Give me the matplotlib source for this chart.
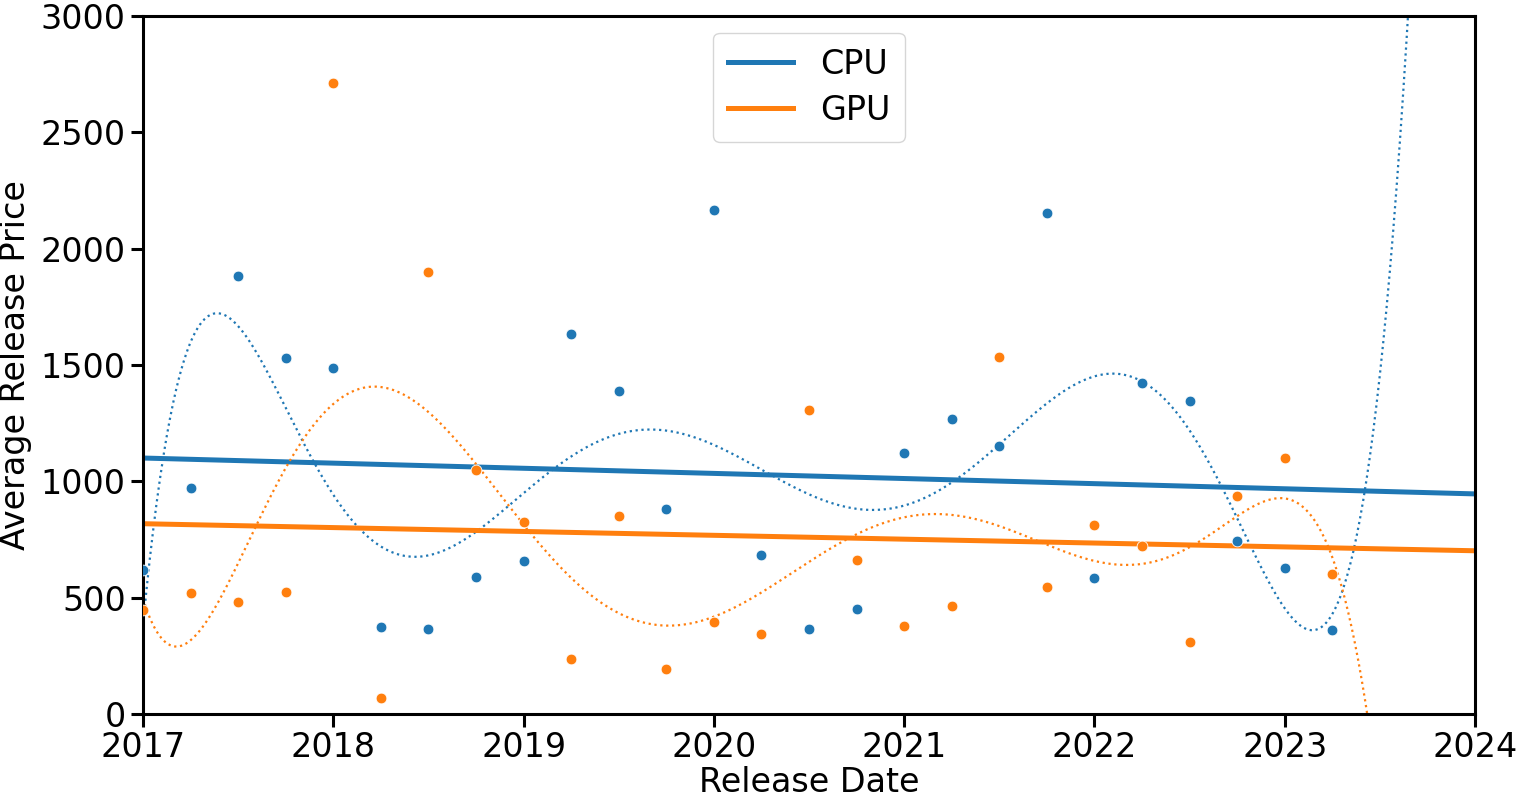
import numpy as np
import matplotlib.pyplot as plt

# quarterly release dates (decimal years)
dates = [2017.0, 2017.25, 2017.5, 2017.75, 2018.0, 2018.25, 2018.5, 2018.75,
         2019.0, 2019.25, 2019.5, 2019.75, 2020.0, 2020.25, 2020.5, 2020.75,
         2021.0, 2021.25, 2021.5, 2021.75, 2022.0, 2022.25, 2022.5, 2022.75,
         2023.0, 2023.25]

cpu_price = [619, 971, 1882, 1530, 1487, 374, 365, 589,
             657, 1633, 1388, 881, 2166, 683, 365, 451,
             1122, 1268, 1152, 2153, 584, 1422, 1345, 743,
             627, 361]

gpu_price = [447, 520, 481, 524, 2712, 69, 1899, 1049,
             825, 236, 851, 193, 395, 344, 1306, 662,
             378, 464, 1534, 546, 812, 722, 309, 937,
             1100, 602]

xticks = [2017, 2018, 2019, 2020, 2021, 2022, 2023, 2024]
yticks = [0, 500, 1000, 1500, 2000, 2500, 3000]

FS = 24
plt.rcParams['font.family'] = ['DejaVu Sans']

fig = plt.figure(figsize=(15.17, 8.02), dpi=100)
ax = fig.add_axes([0.0943, 0.1097, 0.8780, 0.8703])

x = np.array(dates)
xs = np.linspace(2017, 2024, 800)
for vals, color, name in [(cpu_price, '#1f77b4', 'CPU'), (gpu_price, '#ff7f0e', 'GPU')]:
    y = np.array(vals, dtype=float)
    ax.scatter(x, y, s=60, color=color, edgecolor='white', linewidth=0.6, zorder=3)
    lin = np.polyfit(x - 2020, y, 1)
    ax.plot(xs, np.polyval(lin, xs - 2020), color=color, lw=3.6, label=name, zorder=2)
    poly = np.polyfit(x - 2020, y, 7)
    ax.plot(xs, np.polyval(poly, xs - 2020), color=color, lw=1.6, ls=':', zorder=2)

ax.set_xlim(2017, 2024)
ax.set_ylim(0, 3000)
ax.set_xticks(xticks)
ax.set_xticklabels([str(t) for t in xticks])
ax.set_yticks(yticks)
ax.tick_params(labelsize=FS, length=9, width=2.2)
for sp in ax.spines.values():
    sp.set_linewidth(2.2)
ax.set_xlabel('Release Date', fontsize=FS, labelpad=1)
ax.set_ylabel('Average Release Price', fontsize=FS, labelpad=6)
ax.legend(loc='upper center', fontsize=FS,
          handlelength=1.95, borderpad=0.45, labelspacing=0.4)

fig.savefig('out.png', dpi=100)
